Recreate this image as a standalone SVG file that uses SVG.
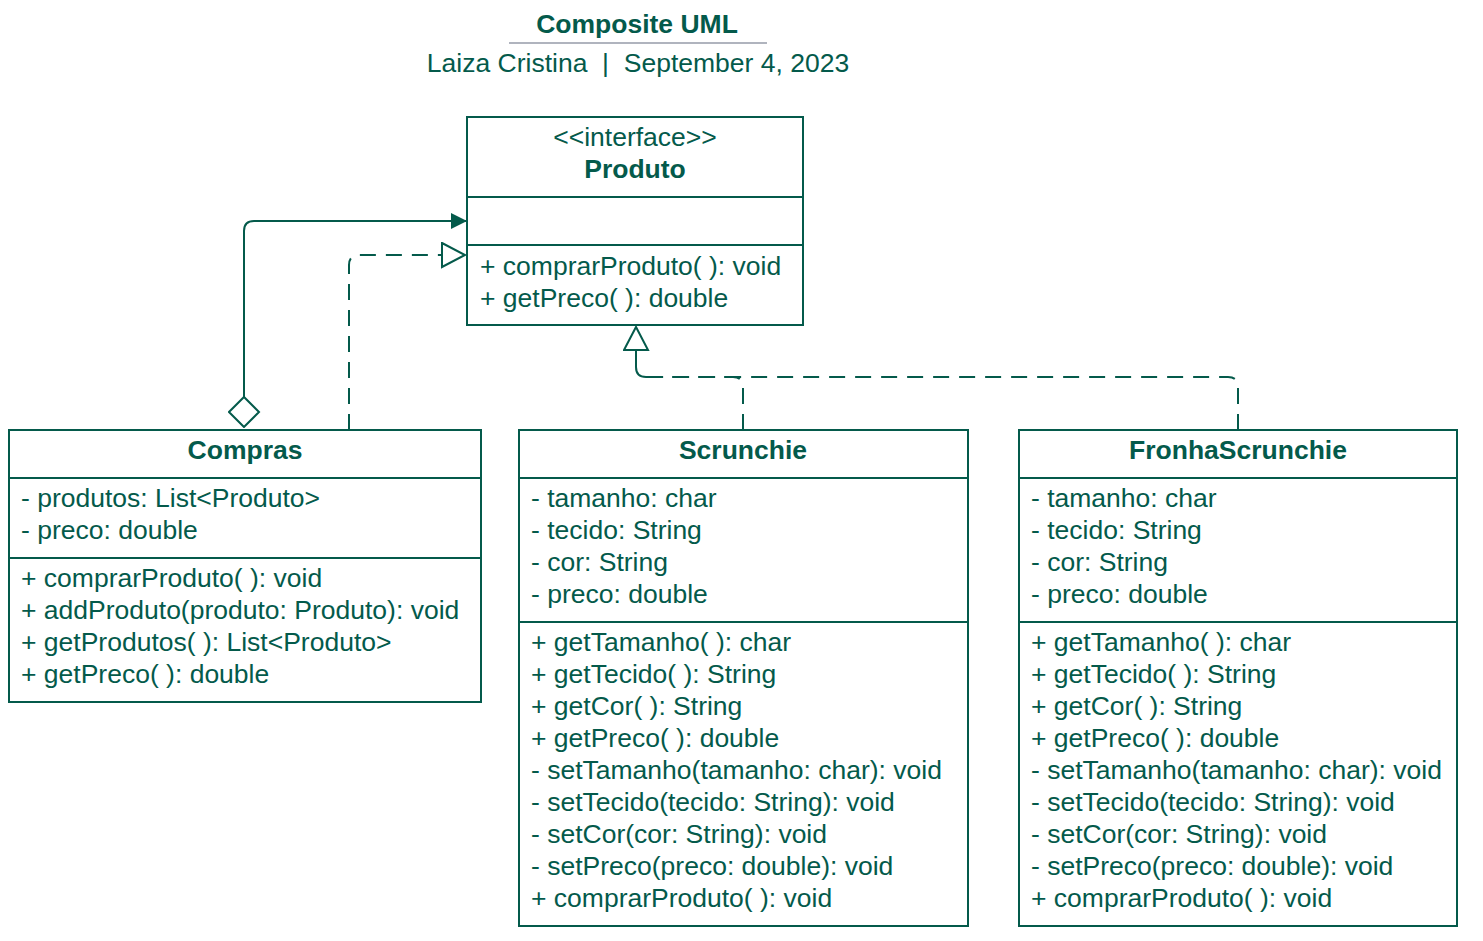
<svg xmlns="http://www.w3.org/2000/svg" width="1483" height="941" viewBox="0 0 1483 941">
<style>
.box{fill:#fff;stroke:#045a4b;stroke-width:2}
.sep{stroke:#045a4b;stroke-width:2}
text{font-family:"Liberation Sans",Arial,sans-serif;fill:#045a4b;font-size:26.5px}
.b{font-weight:bold}
.c{text-anchor:middle}
.ln{fill:none;stroke:#045a4b;stroke-width:2}
.d{stroke-dasharray:16 10}
</style>
<defs>
<marker id="filled" markerWidth="18" markerHeight="18" refX="16" refY="8" orient="auto" markerUnits="userSpaceOnUse">
<path d="M0,0 L16,8 L0,16 Z" fill="#045a4b"/>
</marker>
<marker id="hollow" markerWidth="28" markerHeight="28" refX="24" refY="13" orient="auto" markerUnits="userSpaceOnUse">
<path d="M1,1 L24,13 L1,25 Z" fill="#fff" stroke="#045a4b" stroke-width="2"/>
</marker>
<marker id="diamond" markerWidth="34" markerHeight="34" refX="1" refY="16" orient="auto" markerUnits="userSpaceOnUse">
<path d="M1,16 L16,1 L31,16 L16,31 Z" fill="#fff" stroke="#045a4b" stroke-width="2"/>
</marker>
</defs>

<g id="title">
<text x="637" y="33" class="c b">Composite UML</text>
<line x1="509" y1="43" x2="767" y2="43" stroke="#b0b4be" stroke-width="2"/>
<text x="638" y="72" class="c" xml:space="preserve">Laiza Cristina  |  September 4, 2023</text>
</g>

<g id="connectors">
<path class="ln" d="M244,427 L244,231 Q244,221 254,221 L467,221" marker-start="url(#diamond)" marker-end="url(#filled)"/>
<path class="ln d" d="M349,430 L349,265 Q349,255 359,255 L465,255" marker-end="url(#hollow)"/>
<path class="ln d" d="M743,430 L743,387 Q743,377 733,377 L656,377"/>
<path class="ln" d="M660,377 L646,377 Q636,377 636,367 L636,327" marker-end="url(#hollow)"/>
<path class="ln d" d="M1238,430 L1238,387 Q1238,377 1228,377 L660,377"/>
</g>

<g id="produto">
<rect class="box" x="467" y="117" width="336" height="208"/>
<line class="sep" x1="467" y1="197" x2="803" y2="197"/>
<line class="sep" x1="467" y1="245" x2="803" y2="245"/>
<text x="635" y="146" class="c">&lt;&lt;interface&gt;&gt;</text>
<text x="635" y="178" class="c b">Produto</text>
<text x="480" y="275">+ comprarProduto( ): void</text>
<text x="480" y="307">+ getPreco( ): double</text>
</g>

<g id="compras">
<rect class="box" x="9" y="430" width="472" height="272"/>
<line class="sep" x1="9" y1="478" x2="481" y2="478"/>
<line class="sep" x1="9" y1="558" x2="481" y2="558"/>
<text x="245" y="459" class="c b">Compras</text>
<text x="21" y="507">- produtos: List&lt;Produto&gt;</text>
<text x="21" y="539">- preco: double</text>
<text x="21" y="587">+ comprarProduto( ): void</text>
<text x="21" y="619">+ addProduto(produto: Produto): void</text>
<text x="21" y="651">+ getProdutos( ): List&lt;Produto&gt;</text>
<text x="21" y="683">+ getPreco( ): double</text>
</g>

<g id="scrunchie">
<rect class="box" x="519" y="430" width="449" height="496"/>
<line class="sep" x1="519" y1="478" x2="968" y2="478"/>
<line class="sep" x1="519" y1="622" x2="968" y2="622"/>
<text x="743" y="459" class="c b">Scrunchie</text>
<text x="531" y="507">- tamanho: char</text>
<text x="531" y="539">- tecido: String</text>
<text x="531" y="571">- cor: String</text>
<text x="531" y="603">- preco: double</text>
<text x="531" y="651">+ getTamanho( ): char</text>
<text x="531" y="683">+ getTecido( ): String</text>
<text x="531" y="715">+ getCor( ): String</text>
<text x="531" y="747">+ getPreco( ): double</text>
<text x="531" y="779">- setTamanho(tamanho: char): void</text>
<text x="531" y="811">- setTecido(tecido: String): void</text>
<text x="531" y="843">- setCor(cor: String): void</text>
<text x="531" y="875">- setPreco(preco: double): void</text>
<text x="531" y="907">+ comprarProduto( ): void</text>
</g>

<g id="fronhascrunchie">
<rect class="box" x="1019" y="430" width="438" height="496"/>
<line class="sep" x1="1019" y1="478" x2="1457" y2="478"/>
<line class="sep" x1="1019" y1="622" x2="1457" y2="622"/>
<text x="1238" y="459" class="c b">FronhaScrunchie</text>
<text x="1031" y="507">- tamanho: char</text>
<text x="1031" y="539">- tecido: String</text>
<text x="1031" y="571">- cor: String</text>
<text x="1031" y="603">- preco: double</text>
<text x="1031" y="651">+ getTamanho( ): char</text>
<text x="1031" y="683">+ getTecido( ): String</text>
<text x="1031" y="715">+ getCor( ): String</text>
<text x="1031" y="747">+ getPreco( ): double</text>
<text x="1031" y="779">- setTamanho(tamanho: char): void</text>
<text x="1031" y="811">- setTecido(tecido: String): void</text>
<text x="1031" y="843">- setCor(cor: String): void</text>
<text x="1031" y="875">- setPreco(preco: double): void</text>
<text x="1031" y="907">+ comprarProduto( ): void</text>
</g>
</svg>
